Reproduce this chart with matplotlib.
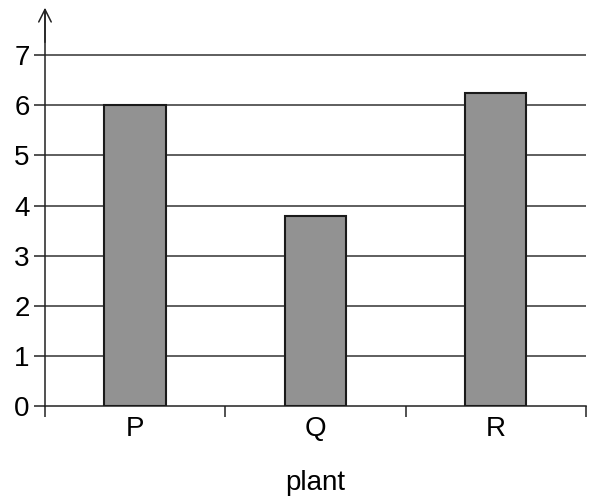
import numpy as np
import matplotlib
matplotlib.use("Agg")
import matplotlib.pyplot as plt

plants = ["P", "Q", "R"]
values = [6.0, 3.8, 6.25]
y_ticks = [0, 1, 2, 3, 4, 5, 6, 7]

plt.rcParams['font.family'] = ['Liberation Sans', 'DejaVu Sans']

fig = plt.figure(figsize=(5.95, 4.97), dpi=100)
ax = fig.add_axes([0.0756, 0.183, 0.909, 0.807])

x = np.arange(len(plants))
ax.bar(x, values, width=0.34, color='#929292', edgecolor='#1a1a1a',
       linewidth=1.5, zorder=3)

# horizontal gridlines
for t in y_ticks[1:]:
    ax.axhline(t, color='#333333', linewidth=1.1, zorder=1)

ax.set_xlim(-0.5, len(plants) - 0.5)
ax.set_ylim(0, 8.0)

ax.set_yticks(y_ticks)
ax.set_yticklabels([str(t) for t in y_ticks])
ax.set_xticks(x)
ax.set_xticklabels(plants)
ax.set_xticks(np.arange(len(plants) + 1) - 0.5, minor=True)

ax.tick_params(axis='y', length=8, width=1.1, labelsize=20, pad=3,
               color='#222222')
ax.tick_params(axis='x', which='major', length=0, labelsize=20, pad=7)
ax.tick_params(axis='x', which='minor', length=8, width=1.1, color='#222222')

for s in ['top', 'right']:
    ax.spines[s].set_visible(False)
for s in ['left', 'bottom']:
    ax.spines[s].set_linewidth(1.1)
    ax.spines[s].set_color('#222222')
ax.spines['left'].set_bounds(0, 7.9)

ax.annotate('', xy=(0, 1.0), xycoords='axes fraction',
            xytext=(0, 0.9), textcoords='axes fraction',
            arrowprops=dict(arrowstyle='->,head_length=0.9,head_width=0.45',
                            color='#222222', lw=1.1))

ax.set_xlabel('plant', fontsize=20, labelpad=20)

fig.savefig('out.png', dpi=100)
